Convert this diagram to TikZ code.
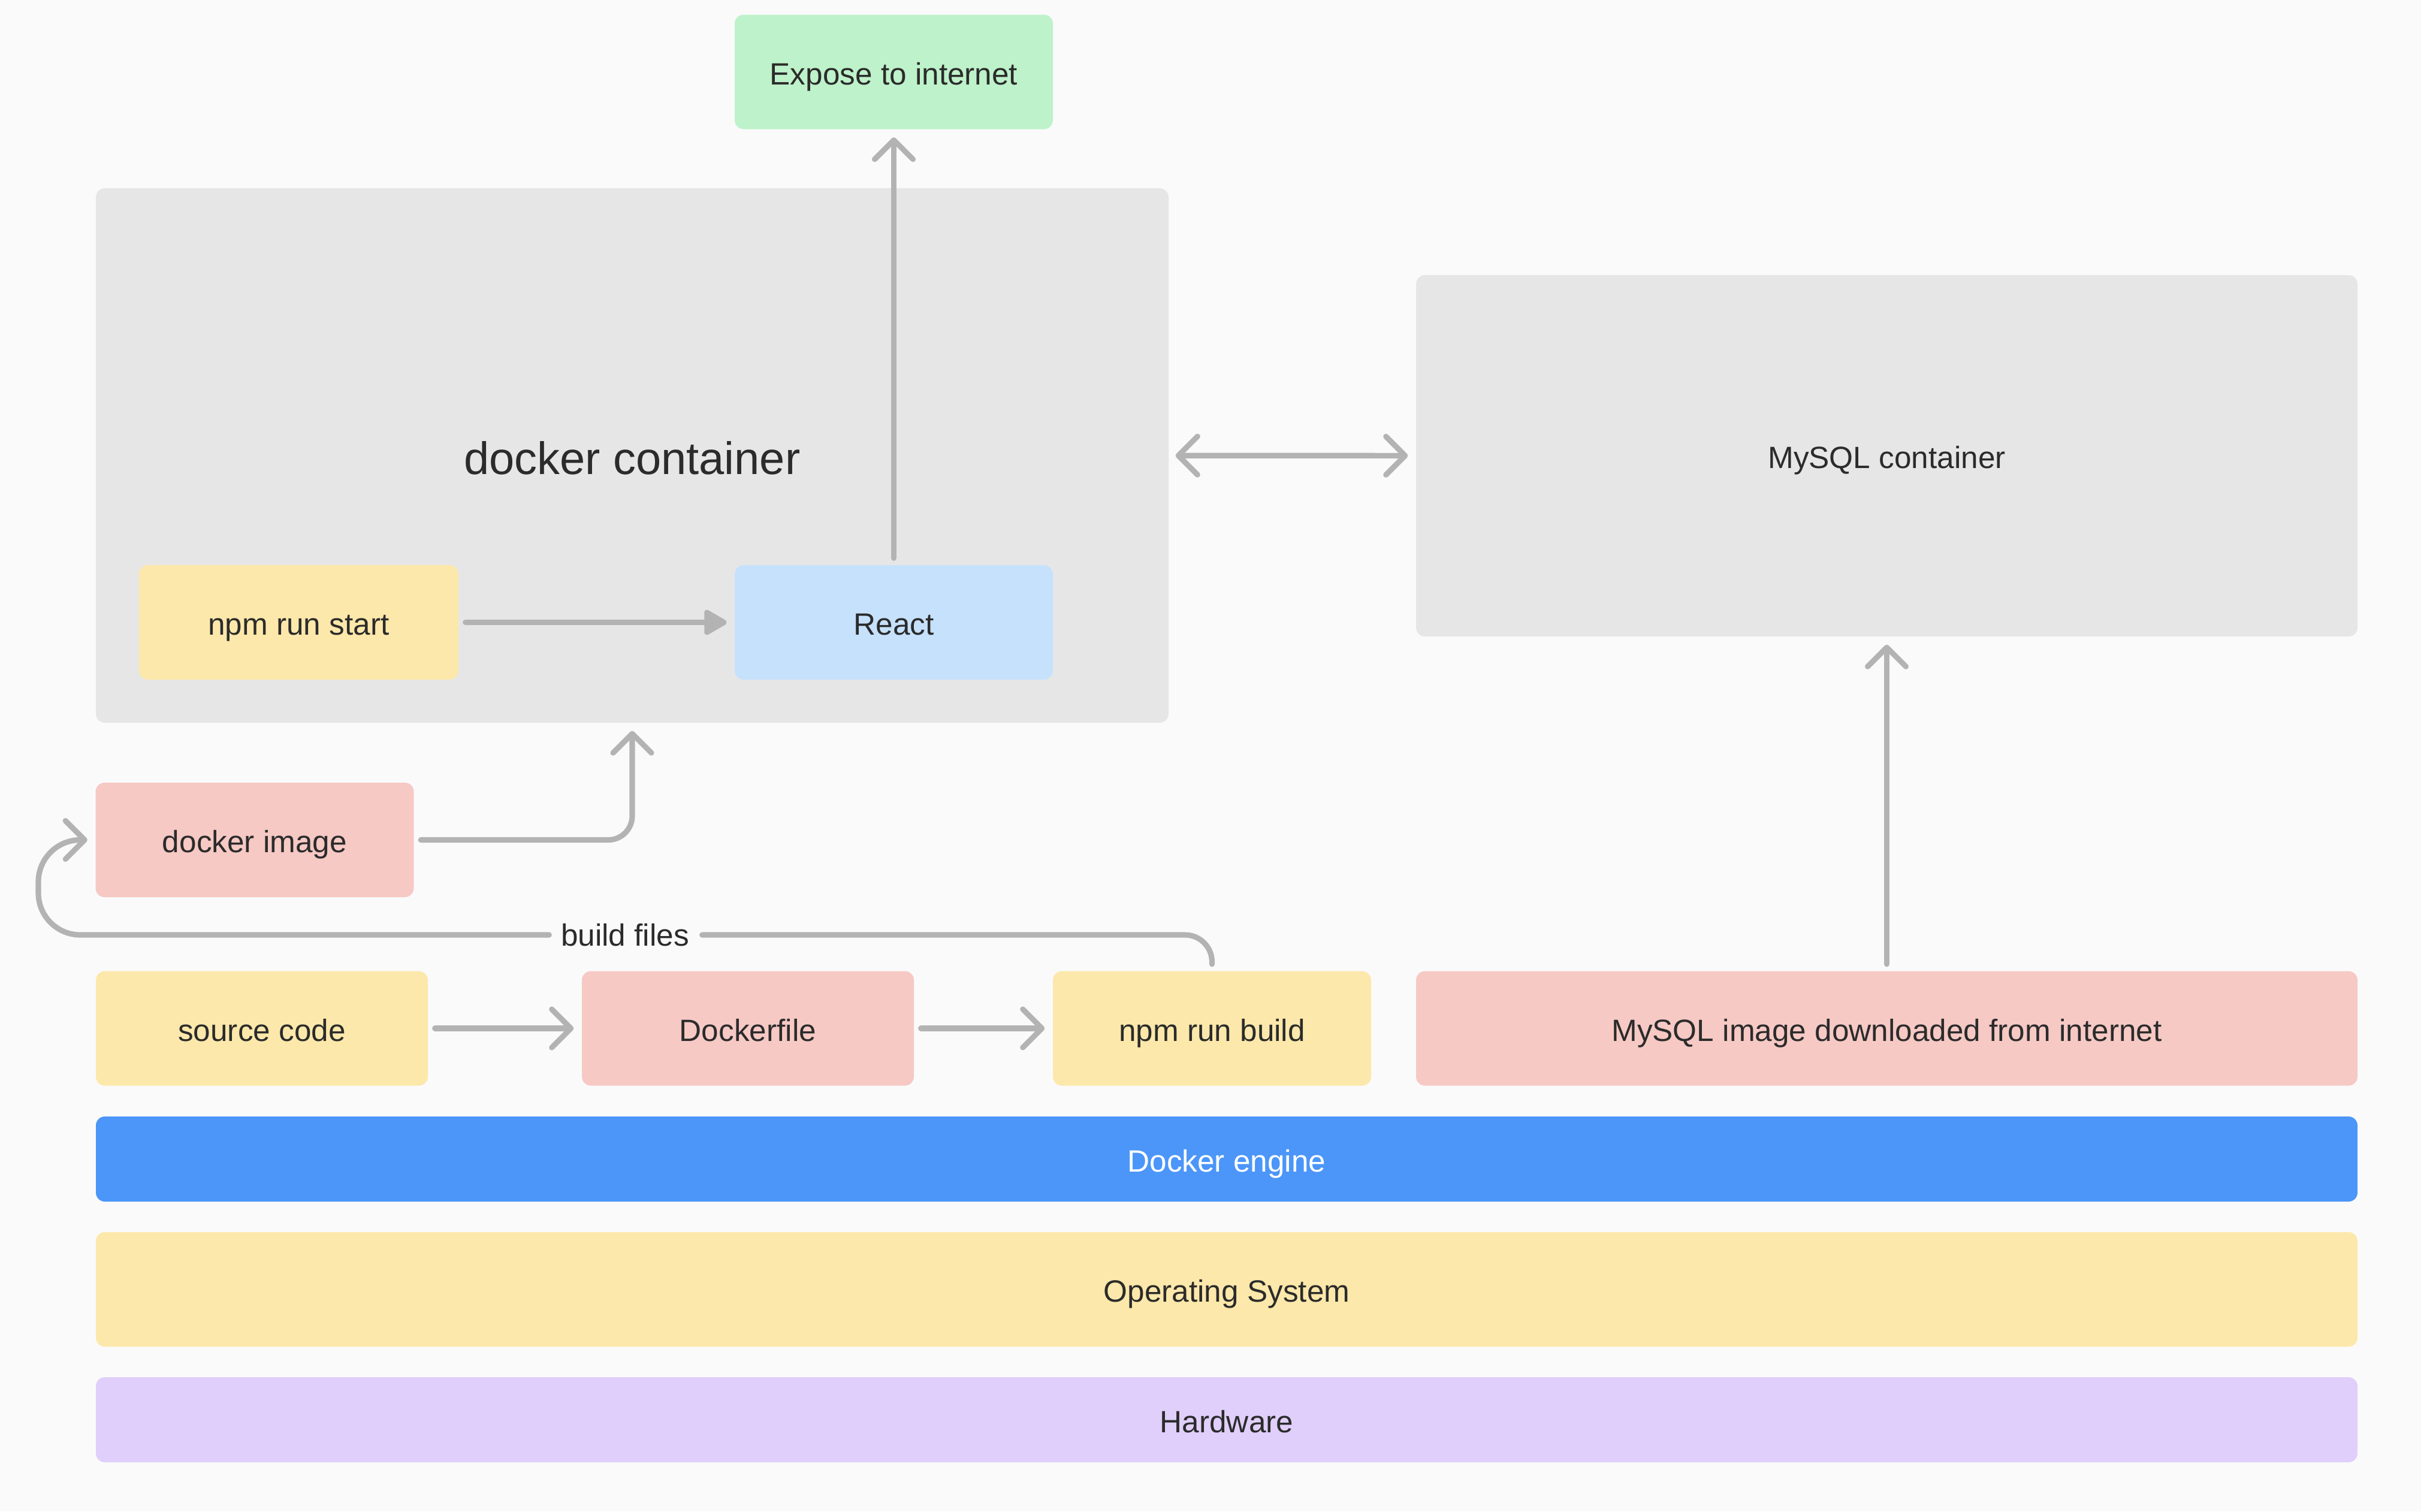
\documentclass[tikz,border=0pt]{standalone}
\usepackage{fontspec}
\setmainfont{Liberation Sans}
\usetikzlibrary{arrows.meta}
\definecolor{bgcol}{HTML}{FAFAFA}
\definecolor{boxgrey}{HTML}{E6E6E6}
\definecolor{boxgreen}{HTML}{BEF2CA}
\definecolor{boxyellow}{HTML}{FCE8AA}
\definecolor{boxpink}{HTML}{F6C9C4}
\definecolor{boxblue}{HTML}{C6E1FC}
\definecolor{boxpurple}{HTML}{E0CFFA}
\definecolor{engineblue}{HTML}{4B96F8}
\definecolor{arrowgrey}{HTML}{B3B3B3}
\definecolor{txtcol}{HTML}{2B2B2B}

\begin{document}
\begin{tikzpicture}[
		box/.style={
			rounded corners=1.5mm,
			inner sep=0pt,
			minimum width=5.31cm,
			minimum height=1.91cm,
			text=txtcol,
			text height=12pt,
			text depth=0pt,
			font=\fontsize{14.6}{17}\selectfont,
		},
		bigbox/.style={box, fill=boxgrey},
		layer/.style={box, minimum width=37.74cm},
		barb/.tip={Straight Barb[round, length=3.2mm, width=6.4mm]},
		conn/.style={
			draw=arrowgrey,
			line width=2.6pt,
			line cap=round,
			line join=round,
			shorten >=1.3mm,
			shorten <=1.1mm,
			-barb,
		}]
		\fill[bgcol] (0,0) rectangle (40.4,-25.22);
		
		\node[bigbox, minimum width=17.9cm, minimum height=8.92cm, text height=17.7pt, font=\fontsize{21.6}{26}\selectfont] (dcont) at (10.55,-7.6) {docker container};
		\node[bigbox, minimum width=15.71cm, minimum height=6.03cm] (mysqlc) at (31.485,-7.605) {MySQL container};
		
		\node[box, fill=boxgreen] (expose) at (14.915,-1.2) {Expose to internet};
		\node[box, fill=boxyellow, minimum width=5.33cm] (start) at (4.985,-10.385) {npm run start};
		\node[box, fill=boxblue] (react) at (14.915,-10.385) {React};
		\node[box, fill=boxpink] (dimage) at (4.25,-14.015) {docker image};
		
		\node[box, fill=boxyellow, minimum width=5.54cm] (src) at (4.37,-17.16) {source code};
		\node[box, fill=boxpink, minimum width=5.54cm] (dfile) at (12.48,-17.16) {Dockerfile};
		\node[box, fill=boxyellow] (build) at (20.225,-17.16) {npm run build};
		\node[box, fill=boxpink, minimum width=15.71cm] (mysqli) at (31.485,-17.16) {MySQL image downloaded from internet};
		
		\node[layer, fill=engineblue, text=white, minimum height=1.42cm] (engine) at (20.47,-19.34) {Docker engine};
		\node[layer, fill=boxyellow] (os) at (20.47,-21.515) {Operating System};
		\node[layer, fill=boxpurple, minimum height=1.42cm] (hw) at (20.47,-23.69) {Hardware};
		
		\draw[conn] (react) -- (expose);
		\draw[conn, -{Triangle[round, length=4.2mm, width=4.6mm]}] (start) -- (react);
		\draw[conn, barb-barb] (dcont) -- (mysqlc);
		\draw[conn, rounded corners=4mm] (dimage) -| (dcont);
		\draw[conn] (src) -- (dfile);
		\draw[conn] (dfile) -- (build);
		\draw[conn] (mysqli) -- (mysqlc);
		
		\node[inner xsep=0.8mm, text=txtcol, font=\fontsize{14.6}{17}\selectfont] (buildlbl) at (10.43,-15.6) {build files};
		\coordinate (loop) at (0.64,-15.6);
		\draw[conn, -, rounded corners=4.5mm] (build.north) |- (buildlbl.east);
		\draw[conn, rounded corners=7mm] (buildlbl.west) -- (loop) |- (dimage.west);
	\end{tikzpicture}
\end{document}
